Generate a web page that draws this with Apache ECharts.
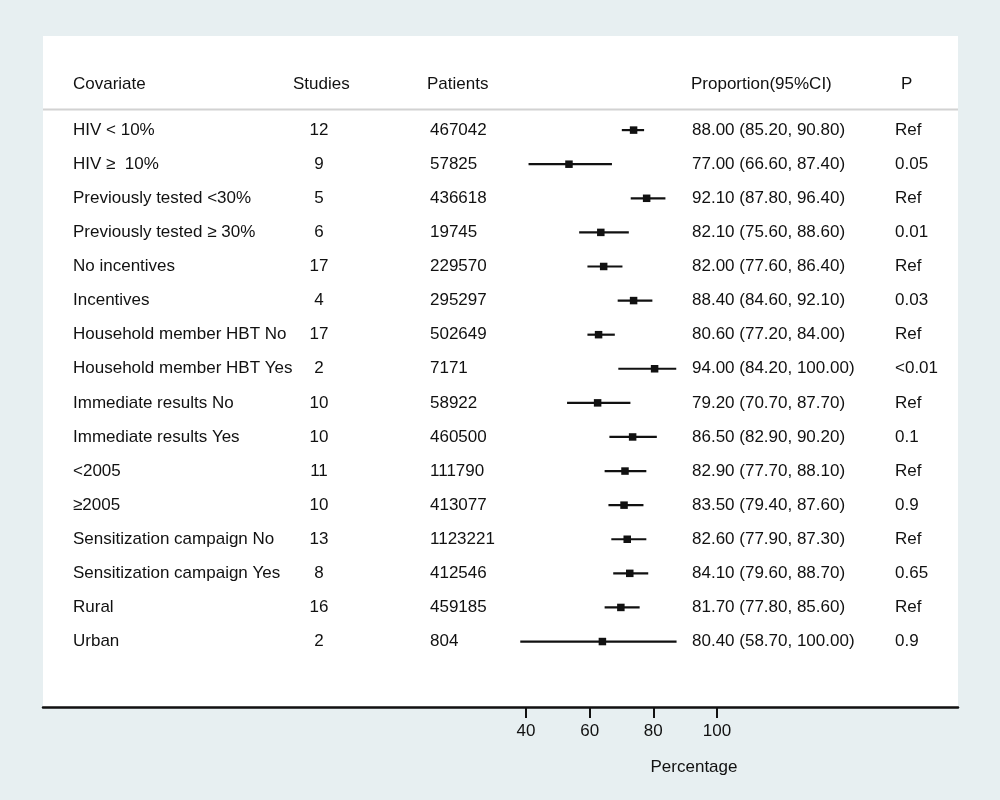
<!DOCTYPE html>
<html>
<head>
<meta charset="utf-8">
<script src="https://cdn.jsdelivr.net/npm/echarts@6/dist/echarts.min.js"></script>
<style>
html, body { margin: 0; padding: 0; background: #e7eff1; }
#chart { width: 1000px; height: 800px; }
</style>
</head>
<body>
<div id="chart"></div>
<script>
// table columns, as printed
var covariates = ['HIV < 10%', 'HIV \u2265  10%', 'Previously tested <30%', 'Previously tested \u2265 30%',
    'No incentives', 'Incentives', 'Household member HBT No', 'Household member HBT Yes',
    'Immediate results No', 'Immediate results Yes', '<2005', '\u22652005',
    'Sensitization campaign No', 'Sensitization campaign Yes', 'Rural', 'Urban'];
var studies = [12, 9, 5, 6, 17, 4, 17, 2, 10, 10, 11, 10, 13, 8, 16, 2];
var patients = [467042, 57825, 436618, 19745, 229570, 295297, 502649, 7171,
    58922, 460500, 111790, 413077, 1123221, 412546, 459185, 804];
var propPct = [88.0, 77.0, 92.1, 82.1, 82.0, 88.4, 80.6, 94.0, 79.2, 86.5, 82.9, 83.5, 82.6, 84.1, 81.7, 80.4];
var propLo = [85.2, 66.6, 87.8, 75.6, 77.6, 84.6, 77.2, 84.2, 70.7, 82.9, 77.7, 79.4, 77.9, 79.6, 77.8, 58.7];
var propHi = [90.8, 87.4, 96.4, 88.6, 86.4, 92.1, 84.0, 100.0, 87.7, 90.2, 88.1, 87.6, 87.3, 88.7, 85.6, 100.0];
var pValues = ['Ref', '0.05', 'Ref', '0.01', 'Ref', '0.03', 'Ref', '<0.01', 'Ref', '0.1', 'Ref', '0.9', 'Ref', '0.65', 'Ref', '0.9'];

// markers as drawn, read against the Percentage axis
var markEst = [73.8, 53.5, 77.9, 63.5, 64.4, 73.8, 62.8, 80.4, 62.5, 73.5, 71.1, 70.8, 71.8, 72.6, 69.8, 64.0];
var markLo = [70.1, 40.8, 72.9, 56.7, 59.3, 68.8, 59.3, 69.0, 52.9, 66.2, 64.7, 65.9, 66.8, 67.4, 64.7, 38.2];
var markHi = [77.1, 67.0, 83.8, 72.3, 70.3, 79.7, 67.9, 87.2, 72.8, 81.1, 77.8, 76.9, 77.8, 78.4, 75.7, 87.3];

var headers = ['Covariate', 'Studies', 'Patients', 'Proportion(95%CI)', 'P'];
var tickValues = [40, 60, 80, 100];
var axisTitle = 'Percentage';

var FONT = '"Liberation Sans", Arial, Helvetica, sans-serif';
var INK = '#111111';
var SIZE = 17;
// column anchors (px) and alignment
var COLS = [
    {x: 73, align: 'left'},
    {x: 319, align: 'center'},
    {x: 430, align: 'left'},
    {x: 692, align: 'left'},
    {x: 895, align: 'left'}
];
var HEAD_X = [73, 293, 427, 691, 901];

function fmt(v) { return v.toFixed(2) }

var columnText = [
    covariates,
    studies.map(String),
    patients.map(String),
    propPct.map(function (v, i) { return fmt(v) + ' (' + fmt(propLo[i]) + ', ' + fmt(propHi[i]) + ')' }),
    pValues
];

var textSeries = columnText.map(function (col, c) {
    return {
        type: 'scatter',
        xAxisIndex: 1,
        symbolSize: 0,
        silent: true,
        itemStyle: {opacity: 1},
        data: col.map(function (t, i) { return {value: [COLS[c].x, i + 1], text: t} }),
        label: {
            show: true,
            position: 'inside',
            align: COLS[c].align,
            verticalAlign: 'middle',
            fontFamily: FONT,
            fontSize: SIZE,
            color: INK,
            formatter: function (p) { return p.data.text }
        }
    }
});

var graphics = headers.map(function (h, i) {
    return {
        type: 'text', x: HEAD_X[i], y: 84, z: 100,
        style: {text: h, fill: INK, font: SIZE + 'px ' + FONT, textVerticalAlign: 'middle'}
    }
});
graphics.push({
    type: 'line', z: 100,
    shape: {x1: 43, y1: 109.5, x2: 958, y2: 109.5},
    style: {stroke: '#d2d2d2', lineWidth: 2}
});
graphics.push({
    type: 'text', x: 694, y: 767, z: 100,
    style: {text: axisTitle, fill: INK, font: SIZE + 'px ' + FONT, textAlign: 'center', textVerticalAlign: 'middle'}
});

var option = {
    backgroundColor: '#e7eff1',
    animation: false,
    grid: {left: 43, right: 42, top: 36, bottom: 93, show: true, backgroundColor: '#ffffff', borderWidth: 0},
    xAxis: [
        {
            type: 'value',
            min: -111.73,
            max: 175.71,
            position: 'bottom',
            axisLine: {show: true, onZero: false, lineStyle: {color: INK, width: 2.5}},
            axisTick: {show: true, customValues: tickValues, length: 11, lineStyle: {color: INK, width: 2}},
            axisLabel: {customValues: tickValues, margin: 16, fontFamily: FONT, fontSize: SIZE, color: INK},
            splitLine: {show: false}
        },
        {type: 'value', min: 43, max: 958, show: false}
    ],
    yAxis: {type: 'value', inverse: true, min: -1.76, max: 17.92, show: false},
    graphic: graphics,
    series: [
        {
            type: 'custom',
            silent: true,
            renderItem: function (params, api) {
                var y = api.value(2);
                var a = api.coord([api.value(0), y]);
                var b = api.coord([api.value(1), y]);
                return {
                    type: 'line',
                    shape: {x1: a[0], y1: a[1], x2: b[0], y2: b[1]},
                    style: {stroke: INK, lineWidth: 2.2}
                };
            },
            encode: {x: [0, 1], y: 2},
            data: markLo.map(function (v, i) { return [v, markHi[i], i + 1] })
        },
        {
            type: 'scatter',
            symbol: 'rect',
            symbolSize: 7.5,
            silent: true,
            itemStyle: {color: INK, opacity: 1},
            data: markEst.map(function (v, i) { return [v, i + 1] })
        }
    ].concat(textSeries)
};

var chart = echarts.init(document.getElementById('chart'));
chart.setOption(option);
</script>
</body>
</html>
